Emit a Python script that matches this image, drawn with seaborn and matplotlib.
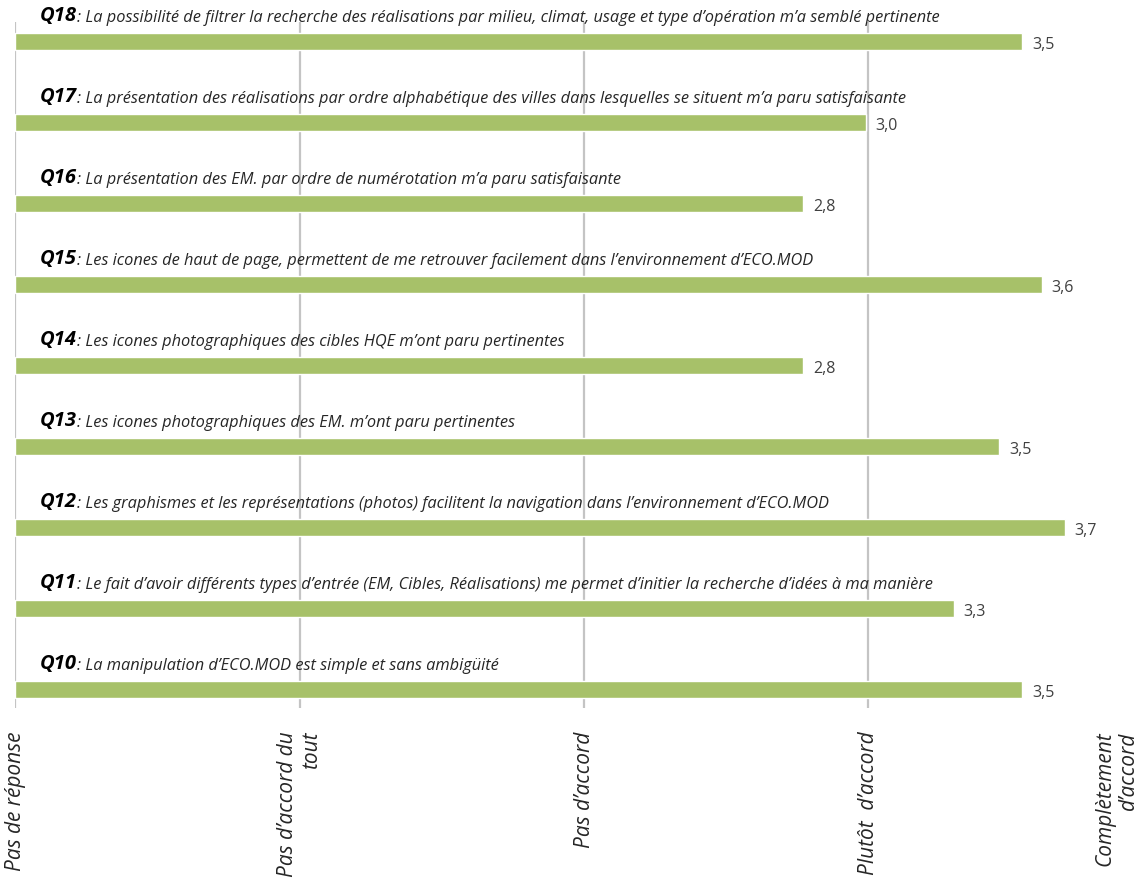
import matplotlib
matplotlib.use("Agg")
import matplotlib.pyplot as plt
import matplotlib.transforms as mtransforms
import seaborn as sns
import pandas as pd

# ---- data ----
question_ids = ["Q18", "Q17", "Q16", "Q15", "Q14", "Q13", "Q12", "Q11", "Q10"]
question_texts = [
    "La possibilité de filtrer la recherche des réalisations par milieu, climat, usage et type d’opération m’a semblé pertinente",
    "La présentation des réalisations par ordre alphabétique des villes dans lesquelles se situent m’a paru satisfaisante",
    "La présentation des EM. par ordre de numérotation m’a paru satisfaisante",
    "Les icones de haut de page, permettent de me retrouver facilement dans l’environnement d’ECO.MOD",
    "Les icones photographiques des cibles HQE m’ont paru pertinentes",
    "Les icones photographiques des EM. m’ont paru pertinentes",
    "Les graphismes et les représentations (photos) facilitent la navigation dans l’environnement d’ECO.MOD",
    "Le fait d’avoir différents types d’entrée (EM, Cibles, Réalisations) me permet d’initier la recherche d’idées à ma manière",
    "La manipulation d’ECO.MOD est simple et sans ambigüité",
]
scores = [3.54, 2.99, 2.77, 3.61, 2.77, 3.46, 3.69, 3.30, 3.54]
scale_values = [0, 1, 2, 3, 4]
scale_labels = ["Pas de réponse", "Pas d’accord du\ntout", "Pas d’accord",
                "Plutôt  d’accord", "Complètement\nd’accord"]

BAR_COLOR = "#A7C169"
GRID_COLOR = "#C4C4C4"
TEXT_COLOR = "#262626"
FONT = ["Open Sans", "DejaVu Sans"]

sns.set_theme(style="white")
plt.rcParams["font.family"] = FONT

df = pd.DataFrame({"question": question_ids, "score": scores})

fig = plt.figure(figsize=(11.41, 8.8), dpi=100)
ax = fig.add_axes([0.01358, 0.1955, 0.9967, 0.7795])

sns.barplot(data=df, x="score", y="question", order=question_ids,
            color=BAR_COLOR, saturation=1, width=0.2, orient="h", ax=ax)

ax.set_xlim(0, 4)
ax.set_ylim(8.228, -0.24)
ax.set_xlabel("")
ax.set_ylabel("")
ax.tick_params(left=False, labelleft=False, bottom=False, length=0, pad=17)
for s in ax.spines.values():
    s.set_visible(False)
ax.xaxis.grid(True, color=GRID_COLOR, linewidth=1.6)
ax.yaxis.grid(False)
ax.set_axisbelow(True)

ax.set_xticks(scale_values)
ax.set_xticklabels(scale_labels, rotation=90, fontsize=15, style="italic",
                   color=TEXT_COLOR, multialignment="right")
# the last label sits against the right edge of the figure, as in the reference
last = ax.get_xticklabels()[-1]
last.set_transform(last.get_transform() +
                   mtransforms.ScaledTranslation(-36 / 100, 0, fig.dpi_scale_trans))

for i, (qid, txt, v) in enumerate(zip(question_ids, question_texts, scores)):
    t1 = ax.text(0.085, i - 0.25, qid, fontsize=14.5, fontweight="bold",
                 style="italic", color="black", va="baseline", ha="left")
    ax.annotate(": " + txt, xy=(1, 0), xycoords=t1, va="bottom", ha="left",
                fontsize=11.8, style="italic", color=TEXT_COLOR)
    ax.text(v + 0.035, i + 0.04, f"{v:.1f}".replace(".", ","),
            fontsize=11.5, color="#404040", va="center", ha="left")

fig.savefig("out.png", dpi=100)
